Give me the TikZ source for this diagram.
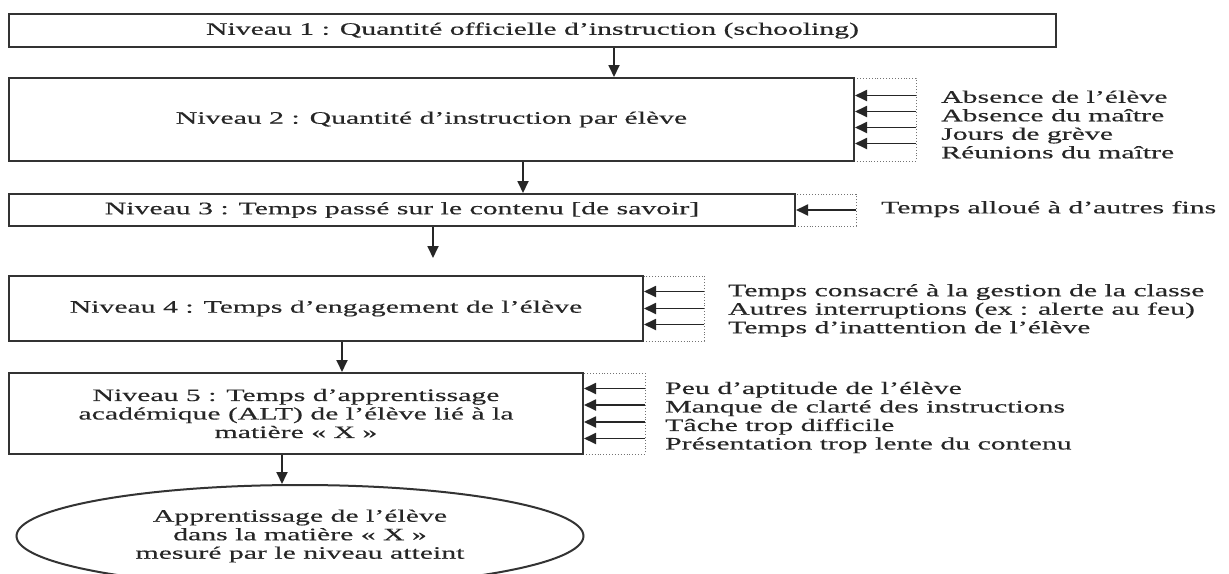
\documentclass[tikz,border=0pt]{standalone}
\usepackage{fontspec}
\setmainfont{Liberation Serif}[FakeStretch=1.7,FakeBold=0.3]
\usetikzlibrary{shapes.geometric,arrows.meta}
\begin{document}
\begin{tikzpicture}[x=1pt,y=-1pt,
  every node/.style={font=\fontsize{17.5}{18.5}\selectfont, text=black!85},
  lvlbox/.style={draw=black!80, line width=2pt, rectangle, inner sep=0pt, align=center},
  sidebox/.style={draw=black!55, dotted, line width=0.9pt, rectangle, inner sep=0pt},
  flowarr/.style={draw=black!85, line width=1.8pt, -{Triangle[length=12pt,width=11pt]}},
  causelbl/.style={anchor=west, align=left, inner sep=0pt}
]
\clip (0,0) rectangle (1229,573);
\fill[white] (0,0) rectangle (1229,573);

% dotted side boxes
\node[sidebox, minimum width=62pt, minimum height=83pt] (d2) at (885,119.5) {};
\node[sidebox, minimum width=61pt, minimum height=32pt] (d3) at (825.5,210) {};
\node[sidebox, minimum width=61pt, minimum height=65pt] (d4) at (673.5,308.5) {};
\node[sidebox, minimum width=62pt, minimum height=81pt] (d5) at (614,413.5) {};

% level boxes
\node[lvlbox, minimum width=1047pt, minimum height=33pt] (b1) at (532.5,30.5)
  {Niveau 1 : Quantité officielle d’instruction (schooling)};
\node[lvlbox, minimum width=845pt, minimum height=83pt] (b2) at (431.5,119.5)
  {Niveau 2 : Quantité d’instruction par élève};
\node[lvlbox, minimum width=786pt, minimum height=32pt] (b3) at (402,210)
  {Niveau 3 : Temps passé sur le contenu [de savoir]};
\node[lvlbox, minimum width=634pt, minimum height=65pt] (b4) at (326,308.5)
  {Niveau 4 : Temps d’engagement de l’élève};
\node[lvlbox, minimum width=574pt, minimum height=81pt] (b5) at (296,413.5)
  {Niveau 5 : Temps d’apprentissage\\académique (ALT) de l’élève lié à la\\matière « X »};
\node[ellipse, draw=black!80, line width=2pt, inner sep=0pt, align=center,
  minimum width=567pt, minimum height=102pt] (e) at (300,536)
  {Apprentissage de l’élève\\dans la matière « X »\\mesuré par le niveau atteint};

% cause labels
\node[causelbl] (l2) at (941,124.5)
  {Absence de l’élève\\Absence du maître\\Jours de grève\\Réunions du maître};
\node[causelbl] (l3) at (881,209)
  {Temps alloué à d’autres fins};
\node[causelbl] (l4) at (728,310.5)
  {Temps consacré à la gestion de la classe\\Autres interruptions (ex : alerte au feu)\\Temps d’inattention de l’élève};
\node[causelbl] (l5) at (665,417.5)
  {Peu d’aptitude de l’élève\\Manque de clarté des instructions\\Tâche trop difficile\\Présentation trop lente du contenu};

% vertical flow arrows
\coordinate (c1) at (614,0);
\coordinate (c2) at (523,0);
\coordinate (c3) at (433,0);
\coordinate (c4) at (342,0);
\coordinate (c5) at (282,0);
\coordinate (a3end) at (433,258);
\draw[flowarr] (b1.south -| c1) -- (b2.north -| c1);
\draw[flowarr] (b2.south -| c2) -- (b3.north -| c2);
\draw[flowarr] (b3.south -| c3) -- (a3end);
\draw[flowarr] (b4.south -| c4) -- (b5.north -| c4);
\draw[flowarr] (b5.south -| c5) -- (e.north -| c5);

% side arrows
\foreach \s in {24,8,-8,-24} \draw[flowarr] ([yshift=\s pt]d2.east) -- ([yshift=\s pt]b2.east);
\draw[flowarr] (d3.east) -- (b3.east);
\foreach \s in {17,0,-16} \draw[flowarr] ([yshift=\s pt]d4.east) -- ([yshift=\s pt]b4.east);
\foreach \s in {25,8.5,-8.5,-25} \draw[flowarr] ([yshift=\s pt]d5.east) -- ([yshift=\s pt]b5.east);
\end{tikzpicture}
\end{document}
